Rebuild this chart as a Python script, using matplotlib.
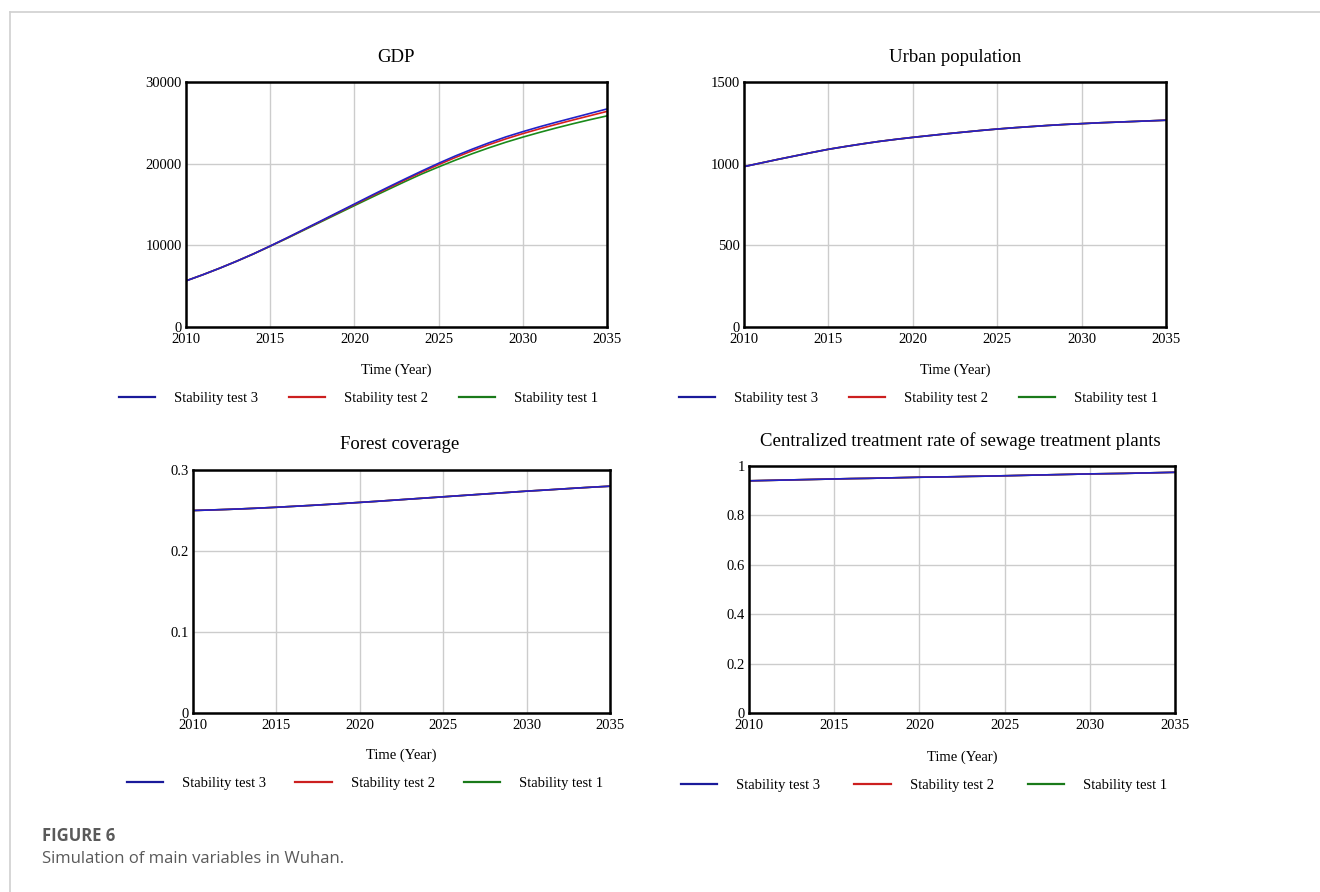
import numpy as np
import matplotlib
matplotlib.use('Agg')
import matplotlib.pyplot as plt
from matplotlib.lines import Line2D

plt.rcParams['font.family'] = ['Liberation Serif', 'DejaVu Serif']

years = [2010, 2011, 2012, 2013, 2014, 2015, 2016, 2017, 2018, 2019, 2020, 2021, 2022,
         2023, 2024, 2025, 2026, 2027, 2028, 2029, 2030, 2031, 2032, 2033, 2034, 2035]

gdp_test3 = [5650, 6400, 7200, 8050, 8950, 9920, 10920, 11950, 12980, 14020, 15060, 16100, 17120,
             18120, 19100, 20050, 20950, 21780, 22560, 23280, 23920, 24520, 25080, 25620, 26160, 26700]
gdp_test2 = [5650, 6400, 7200, 8050, 8950, 9910, 10900, 11920, 12940, 13970, 14990, 16010, 17010,
             18000, 18960, 19880, 20760, 21580, 22340, 23040, 23680, 24270, 24820, 25360, 25880, 26400]
gdp_test1 = [5650, 6400, 7200, 8050, 8940, 9890, 10860, 11860, 12860, 13860, 14860, 15850, 16830,
             17800, 18740, 19600, 20430, 21220, 21950, 22630, 23250, 23830, 24380, 24900, 25390, 25850]

pop_test3 = [982, 1004, 1026, 1047, 1068, 1088, 1105, 1121, 1136, 1149, 1161, 1172, 1183,
             1193, 1203, 1212, 1220, 1227, 1234, 1240, 1245, 1250, 1254, 1258, 1262, 1266]

forest_test3 = [0.250, 0.2506, 0.2513, 0.2521, 0.2530, 0.2540, 0.2551, 0.2562, 0.2574, 0.2587, 0.2600,
                0.2613, 0.2627, 0.2641, 0.2655, 0.2669, 0.2683, 0.2697, 0.2711, 0.2725, 0.2739,
                0.2751, 0.2764, 0.2777, 0.2789, 0.2800]

sewage_test3 = [0.940, 0.9415, 0.943, 0.9445, 0.946, 0.9475, 0.949, 0.950, 0.9515, 0.953, 0.9545,
                0.9555, 0.9565, 0.958, 0.959, 0.9605, 0.962, 0.9635, 0.965, 0.9665, 0.968,
                0.969, 0.970, 0.9715, 0.973, 0.9745]

series_names = ['Stability test 3', 'Stability test 2', 'Stability test 1']
line_colors = ['#2222c8', '#d81e1e', '#1a8a1a']
legend_colors = ['#1a1a9a', '#cc1f1f', '#1a7a1a']

W, H = 1320, 892
fig = plt.figure(figsize=(W / 100, H / 100), dpi=100)


def px_axes(l, r, t, b):
    return fig.add_axes((l / W, 1 - b / H, (r - l) / W, (b - t) / H))


def panel(box, title, title_xy, ylim, yticks, ylabels, data, xlabel_y, leg_box):
    ax = px_axes(*box)
    # draw test1 first so test3 (blue) ends on top
    for vals, c in reversed(list(zip(data, line_colors))):
        ax.plot(years, vals, color=c, lw=1.2)
    ax.set_xlim(2010, 2035)
    ax.set_ylim(*ylim)
    ax.set_xticks([2010, 2015, 2020, 2025, 2030, 2035])
    ax.set_yticks(yticks)
    ax.set_yticklabels(ylabels)
    ax.grid(True, color='#cccccc', lw=1)
    ax.tick_params(length=0, labelsize=10.5, pad=4)
    ax.tick_params(axis='y', pad=3)
    for s in ax.spines.values():
        s.set_linewidth(1.8)
        s.set_color('black')
    fig.text(title_xy[0] / W, 1 - title_xy[1] / H, title, ha='center', va='center', fontsize=13.5)
    cx = (box[0] + box[1]) / 2
    fig.text(cx / W, 1 - xlabel_y / H, 'Time (Year)', ha='center', va='center', fontsize=10.5)
    handles = [Line2D([], [], color=c, lw=1.6) for c in legend_colors]
    l, r, y = leg_box
    fig.legend(handles, series_names, loc='center', ncol=3, mode='expand', frameon=False,
               bbox_to_anchor=(l / W, 1 - (y + 1) / H, (r - l) / W, 2 / H),
               fontsize=10.5, handlelength=2.5, handletextpad=1.3, borderaxespad=0)
    return ax


ax1 = panel((186, 607, 82, 327), 'GDP', (396, 57), (0, 30000),
            [0, 10000, 20000, 30000], ['0', '10000', '20000', '30000'],
            [gdp_test3, gdp_test2, gdp_test1], 370, (113, 604, 398))
ax2 = panel((744, 1166, 82, 327), 'Urban population', (955, 57), (0, 1500),
            [0, 500, 1000, 1500], ['0', '500', '1000', '1500'],
            [pop_test3, pop_test3, pop_test3], 370, (673, 1164, 398))
ax3 = panel((193, 610, 470, 713), 'Forest coverage', (400, 445), (0, 0.3),
            [0, 0.1, 0.2, 0.3], ['0', '0.1', '0.2', '0.3'],
            [forest_test3, forest_test3, forest_test3], 755, (121, 609, 783))
ax4 = panel((749, 1175, 466, 713), 'Centralized treatment rate of sewage treatment plants', (960, 441),
            (0, 1), [0, 0.2, 0.4, 0.6, 0.8, 1], ['0', '0.2', '0.4', '0.6', '0.8', '1'],
            [sewage_test3, sewage_test3, sewage_test3], 757, (675, 1173, 785))

# outer frame lines of the page
fig.add_artist(Line2D([10 / W, 10 / W], [0, 1 - 12 / H], color='#d0d0d0', lw=1.2))
fig.add_artist(Line2D([10 / W, 1], [1 - 12 / H, 1 - 12 / H], color='#d0d0d0', lw=1.2))

fig.text(42 / W, 1 - 836 / H, 'FIGURE 6', ha='left', va='center', fontsize=12,
         fontweight='bold', color='#5a5a5a', family='Open Sans')
fig.text(42 / W, 1 - 859 / H, 'Simulation of main variables in Wuhan.', ha='left', va='center',
         fontsize=12, color='#5a5a5a', family='Open Sans')

fig.savefig('out.png', dpi=100)
